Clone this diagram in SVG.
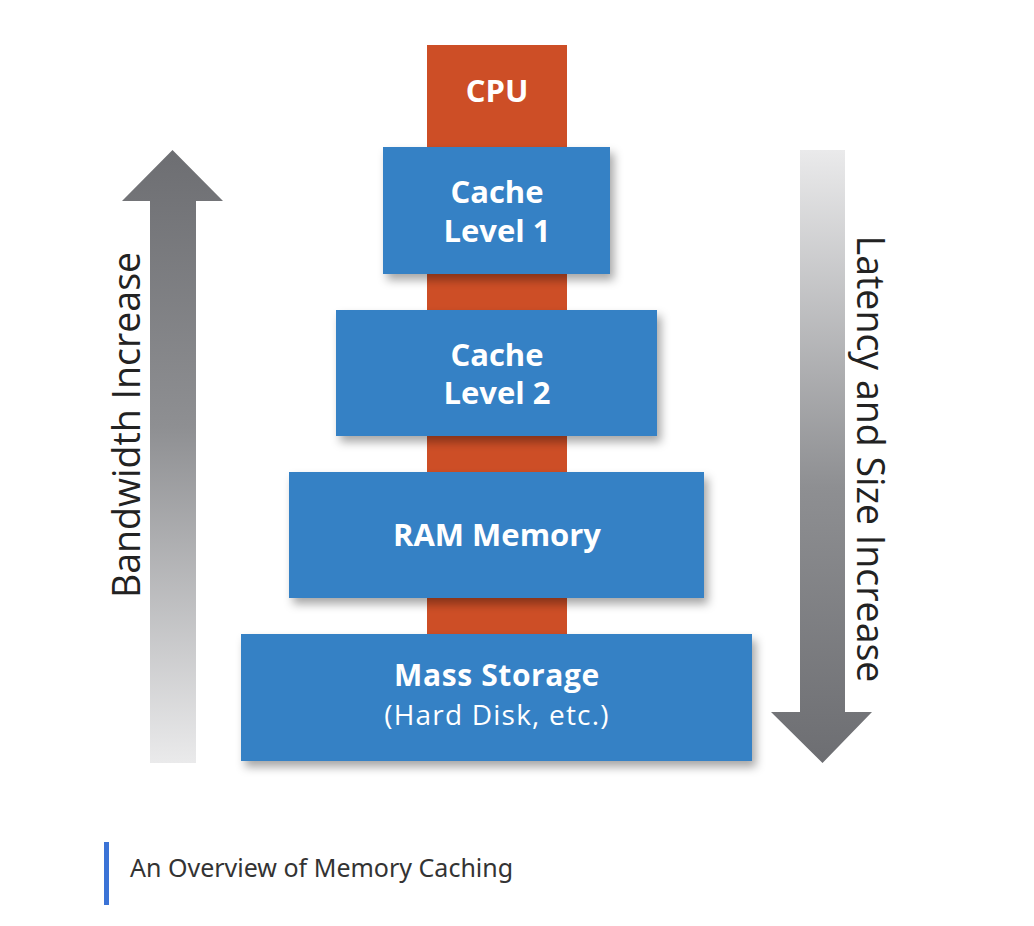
<svg xmlns="http://www.w3.org/2000/svg" width="1034" height="926" viewBox="0 0 1034 926">
<defs>
<style>
.box{fill:#3581c5;filter:url(#sh)}
.bar{fill:#cd4e26}
.t{font-family:"Open Sans","Noto Sans",sans-serif;fill:#fff;text-anchor:middle}
.b{font-weight:bold;font-size:31px}
.b2{font-weight:bold;font-size:30px;letter-spacing:0.6px}
.r{font-size:28px;letter-spacing:1.2px}
.side{font-family:"Open Sans","Noto Sans",sans-serif;font-size:37.5px;fill:#222;text-anchor:middle}
</style>
<filter id="sh" x="-10%" y="-20%" width="125%" height="150%">
<feDropShadow dx="4" dy="6" stdDeviation="5" flood-color="#000" flood-opacity="0.35"/>
</filter>
<linearGradient id="gUp" x1="0" y1="0" x2="0" y2="1">
<stop offset="0" stop-color="#6d6e72"/>
<stop offset="0.45" stop-color="#8e8f92"/>
<stop offset="1" stop-color="#eaeaeb"/>
</linearGradient>
<linearGradient id="gDown" x1="0" y1="0" x2="0" y2="1">
<stop offset="0" stop-color="#eaeaeb"/>
<stop offset="0.55" stop-color="#8e8f92"/>
<stop offset="1" stop-color="#6d6e72"/>
</linearGradient>
</defs>
<rect width="1034" height="926" fill="#fff"/>
<g id="arrows">
<polygon id="arrow-up" points="172.5,150 223,201 196,201 196,763 150,763 150,201 122,201" fill="url(#gUp)"/>
<polygon id="arrow-down" points="800,150 845,150 845,712 872,712 822.5,763 771,712 800,712" fill="url(#gDown)"/>
</g>
<g id="cpu-bar">
<rect class="bar" x="427" y="45" width="140" height="600"/>
</g>
<g id="cpu"><text class="t b" x="497" y="102">CPU</text></g>
<g id="l1">
<rect class="box" x="383" y="147" width="227" height="127"/>
<text class="t b" x="497" y="203">Cache</text>
<text class="t b" x="497" y="242">Level 1</text>
</g>
<g id="l2">
<rect class="box" x="336" y="310" width="321" height="126"/>
<text class="t b" x="497" y="366">Cache</text>
<text class="t b" x="497" y="404">Level 2</text>
</g>
<g id="ram">
<rect class="box" x="289" y="472" width="415" height="126"/>
<text class="t b" x="497" y="546">RAM Memory</text>
</g>
<g id="mass">
<rect class="box" x="241" y="634" width="511" height="127"/>
<text class="t b2" x="497" y="686">Mass Storage</text>
<text class="t r" x="497" y="725">(Hard Disk, etc.)</text>
</g>
<g id="labels">
<text class="side" transform="translate(140,425) rotate(-90)">Bandwidth Increase</text>
<text class="side" transform="translate(857,459) rotate(90)">Latency and Size Increase</text>
</g>
<g id="caption">
<rect x="104" y="842" width="5" height="63" fill="#3b73d6"/>
<text x="130" y="877" font-family="'Noto Sans','Open Sans',sans-serif" font-size="25" fill="#333">An Overview of Memory Caching</text>
</g>
</svg>
